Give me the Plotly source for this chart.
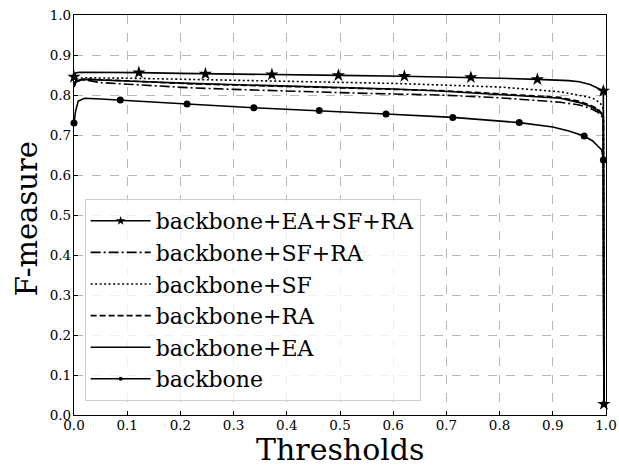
import plotly.graph_objects as go

# ---------------- data ----------------
names = ["backbone+EA+SF+RA", "backbone+SF+RA", "backbone+SF",
         "backbone+RA", "backbone+EA", "backbone"]

x_easfra = [0.0, 0.003, 0.01, 0.05, 0.122, 0.2, 0.247, 0.3, 0.372, 0.5, 0.62,
            0.746, 0.8, 0.871, 0.9, 0.93, 0.95, 0.97, 0.98, 0.99, 0.995, 0.996]
y_easfra = [0.845, 0.855, 0.857, 0.857, 0.856, 0.854, 0.853, 0.852, 0.851, 0.849,
            0.847, 0.844, 0.842, 0.839, 0.838, 0.836, 0.833, 0.826, 0.820, 0.813,
            0.810, 0.027]
mx_easfra = [0.0, 0.122, 0.247, 0.372, 0.497, 0.621, 0.746, 0.871, 0.995, 0.996]
my_easfra = [0.845, 0.856, 0.853, 0.851, 0.849, 0.847, 0.844, 0.839, 0.810, 0.027]

x_sfra = [0.0, 0.004, 0.02, 0.05, 0.1, 0.218, 0.3, 0.444, 0.55, 0.688, 0.8,
          0.914, 0.95, 0.97, 0.985, 0.993, 0.995, 0.996]
y_sfra = [0.820, 0.834, 0.838, 0.831, 0.827, 0.818, 0.814, 0.808, 0.804, 0.800,
          0.793, 0.782, 0.775, 0.767, 0.757, 0.745, 0.740, 0.025]

x_sf = [0.0, 0.005, 0.02, 0.05, 0.1, 0.218, 0.3, 0.46, 0.6, 0.69, 0.8,
        0.914, 0.95, 0.97, 0.98, 0.99, 0.995, 0.996]
y_sf = [0.830, 0.840, 0.843, 0.843, 0.842, 0.839, 0.837, 0.833, 0.829, 0.825,
        0.820, 0.808, 0.800, 0.794, 0.789, 0.778, 0.765, 0.025]

x_ra = [0.0, 0.004, 0.02, 0.05, 0.1, 0.218, 0.3, 0.46, 0.6, 0.688, 0.763,
        0.914, 0.95, 0.97, 0.985, 0.993, 0.995, 0.996]
y_ra = [0.822, 0.836, 0.840, 0.838, 0.835, 0.828, 0.825, 0.820, 0.814, 0.811,
        0.806, 0.794, 0.784, 0.775, 0.765, 0.752, 0.745, 0.025]

x_ea = [0.0, 0.004, 0.02, 0.05, 0.1, 0.218, 0.3, 0.46, 0.6, 0.688, 0.763,
        0.914, 0.95, 0.97, 0.985, 0.993, 0.995, 0.996]
y_ea = [0.820, 0.835, 0.839, 0.837, 0.835, 0.829, 0.826, 0.821, 0.815, 0.810,
        0.804, 0.792, 0.781, 0.772, 0.762, 0.750, 0.742, 0.025]

x_bb = [0.0, 0.003, 0.008, 0.02, 0.05, 0.087, 0.2125, 0.338, 0.461, 0.5865,
        0.712, 0.837, 0.9, 0.93, 0.959, 0.975, 0.985, 0.992, 0.995, 0.996]
y_bb = [0.730, 0.760, 0.785, 0.792, 0.790, 0.7875, 0.7775, 0.768, 0.761, 0.7525,
        0.744, 0.731, 0.720, 0.710, 0.6975, 0.685, 0.672, 0.6625, 0.6375, 0.025]
mx_bb = [0.0, 0.087, 0.2125, 0.338, 0.461, 0.5865, 0.712, 0.837, 0.959, 0.995]
my_bb = [0.730, 0.7875, 0.7775, 0.768, 0.761, 0.7525, 0.744, 0.731, 0.6975, 0.6375]

tick_vals = [0.0, 0.1, 0.2, 0.3, 0.4, 0.5, 0.6, 0.7, 0.8, 0.9, 1.0]
tick_text = ["0.0", "0.1", "0.2", "0.3", "0.4", "0.5", "0.6", "0.7", "0.8", "0.9", "1.0"]

x_title = "Thresholds"
y_title = "F-measure"

# ---------------- styles ----------------
FONT = "DejaVu Serif"
LW = 1.6
dash_styles = {
    "backbone+EA+SF+RA": "solid",
    "backbone+SF+RA": "10px,3px,2px,3px",
    "backbone+SF": "2px,2.5px",
    "backbone+RA": "6px,3px",
    "backbone+EA": "solid",
    "backbone": "solid",
}
curves = {
    "backbone+EA+SF+RA": (x_easfra, y_easfra),
    "backbone+SF+RA": (x_sfra, y_sfra),
    "backbone+SF": (x_sf, y_sf),
    "backbone+RA": (x_ra, y_ra),
    "backbone+EA": (x_ea, y_ea),
    "backbone": (x_bb, y_bb),
}
markers = {
    "backbone+EA+SF+RA": (mx_easfra, my_easfra, "star", 10),
    "backbone": (mx_bb, my_bb, "circle", 7),
}

fig = go.Figure()
for i, n in enumerate(names):
    xs, ys = curves[n]
    fig.add_trace(go.Scatter(x=xs, y=ys, mode="lines", showlegend=False,
                             line=dict(color="black", width=LW, dash=dash_styles[n]),
                             hoverinfo="skip"))
    if n in markers:
        mx, my, sym, sz = markers[n]
        fig.add_trace(go.Scatter(x=mx, y=my, mode="markers", showlegend=False,
                                 marker=dict(symbol=sym, size=sz, color="black"),
                                 cliponaxis=False, hoverinfo="skip"))
# legend entries
for i, n in enumerate(names):
    if n in markers:
        _, _, sym, sz = markers[n]
        fig.add_trace(go.Scatter(x=[None], y=[None], mode="lines+markers", name=n,
                                 legendgroup=n, legendrank=i,
                                 line=dict(color="black", width=LW, dash=dash_styles[n]),
                                 marker=dict(symbol=sym, size=sz - 3, color="black")))
    else:
        fig.add_trace(go.Scatter(x=[None], y=[None], mode="lines", name=n,
                                 legendgroup=n, legendrank=i,
                                 line=dict(color="black", width=LW, dash=dash_styles[n])))

axis_common = dict(
    showline=True, linecolor="black", linewidth=1.3, mirror=True,
    ticks="inside", ticklen=4, tickwidth=1, tickcolor="black",
    showgrid=True, gridcolor="#b8b8b8", gridwidth=1, griddash="dash",
    zeroline=False, tickvals=tick_vals, ticktext=tick_text,
    tickfont=dict(family=FONT, size=13.5, color="black"),
    automargin=False,
)

fig.update_layout(
    width=619, height=467,
    margin=dict(l=74, r=13, t=15, b=52),
    paper_bgcolor="white", plot_bgcolor="white",
    font=dict(family=FONT, color="black"),
    xaxis=dict(range=[0, 1], ticklabelstandoff=-2, **axis_common),
    yaxis=dict(range=[0, 1], ticklabelstandoff=-1, **axis_common),
    legend=dict(x=0.02, y=0.035, xanchor="left", yanchor="bottom",
                bgcolor="rgba(255,255,255,0.8)", bordercolor="#cccccc", borderwidth=1,
                font=dict(family=FONT, size=22, color="black"),
                traceorder="grouped", tracegroupgap=0, itemwidth=60),
    showlegend=True,
    annotations=[
        dict(text=y_title, xref="paper", yref="paper", x=-0.088, y=0.49,
             xanchor="center", yanchor="middle", textangle=-90, showarrow=False,
             font=dict(family=FONT, size=29, color="black")),
        dict(text=x_title, xref="paper", yref="paper", x=0.5, y=-0.0875,
             xanchor="center", yanchor="middle", showarrow=False,
             font=dict(family=FONT, size=30, color="black")),
    ],
)

fig.write_html("out.html", config={"displayModeBar": False},
               post_script="document.body.style.margin='0px';")
